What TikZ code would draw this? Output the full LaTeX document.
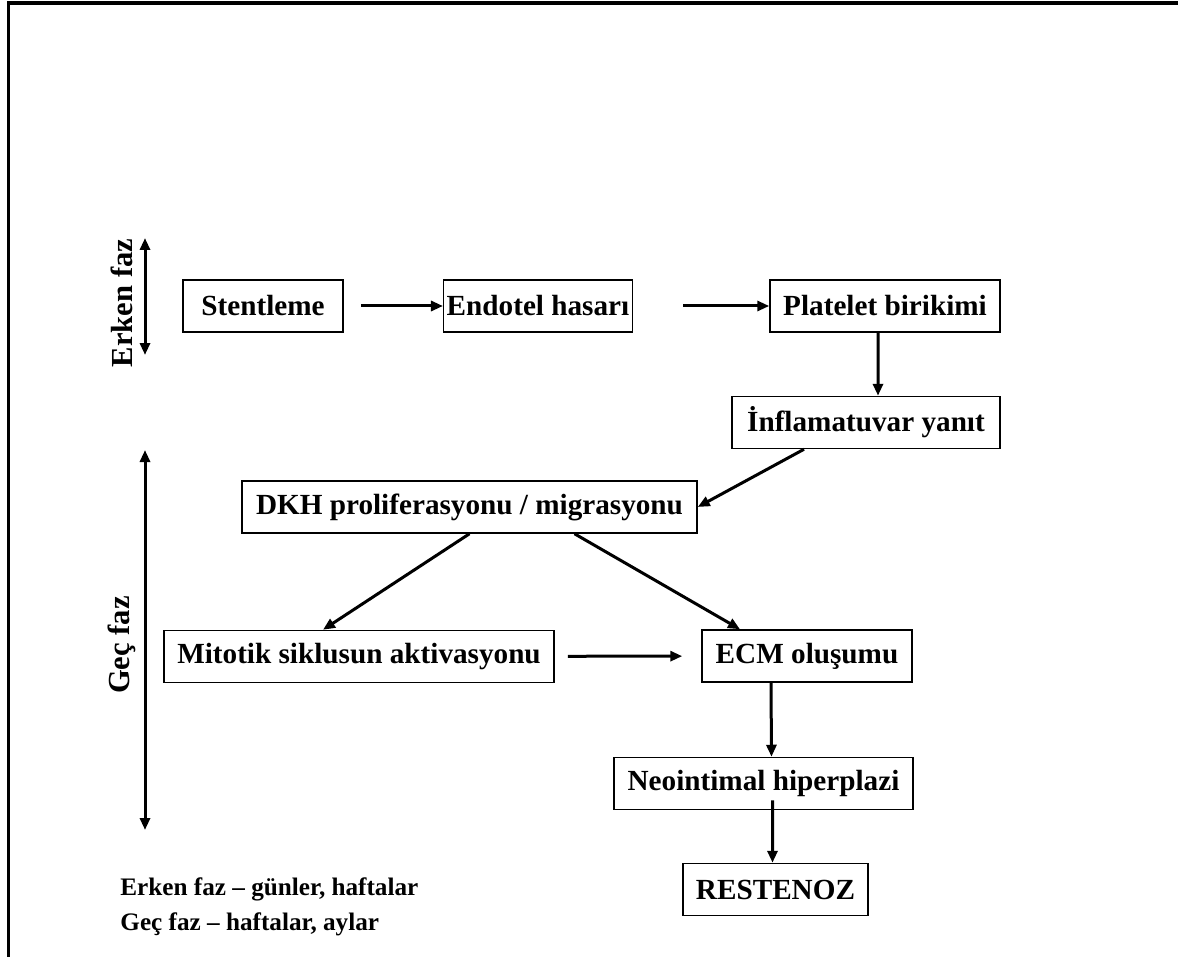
\documentclass[tikz,border=0pt]{standalone}
\usepackage{fontspec}
\setmainfont{Liberation Serif}
\usetikzlibrary{arrows.meta,calc}

\begin{document}
\begin{tikzpicture}[x=5pt,y=5pt,
  box/.style={draw,line width=0.75pt,font=\fontsize{14.6}{16}\selectfont\bfseries,inner xsep=1.5pt,
              minimum height=26pt},
  arr/.style={-{Triangle[length=6pt,width=5pt]},line width=1.5pt},
  phase/.style={{Triangle[length=6pt,width=5pt]}-{Triangle[length=6pt,width=5pt]},line width=1.5pt},
  lbl/.style={font=\fontsize{15.3}{18}\selectfont\bfseries,rotate=90}]
\useasboundingbox (0,0) rectangle (117.8,-95.7);
% çerçeve
\draw[line width=1.6pt] (0.87,-95.7) -- (0.87,-0.3) -- (117.8,-0.3);
% erken faz
\node[box,minimum width=80pt]  (stent) at (26.3,-30.6)  {Stentleme};
\node[box,minimum width=90pt]  (endo)  at (53.8,-30.6)  {Endotel hasarı};
\node[box,minimum width=115pt] (plat)  at (88.5,-30.6)  {Platelet birikimi};
\node[box,minimum width=134pt] (infl)  at (86.6,-42.25) {İnflamatuvar yanıt};
% geç faz
\node[box,minimum width=227.5pt] (dkh)  at (46.95,-50.7) {DKH proliferasyonu / migrasyonu};
\node[box,minimum width=195pt]   (mito) at (35.9,-65.65) {Mitotik siklusun aktivasyonu};
\node[box,minimum width=105pt]   (ecm)  at (80.7,-65.6)  {ECM oluşumu};
\node[box,minimum width=149.5pt] (neo)  at (76.35,-78.35) {Neointimal hiperplazi};
\node[box,minimum width=92.5pt]  (rest) at (77.55,-88.95) {RESTENOZ};
\draw[arr,shorten <=8.5pt] (stent) -- (endo);
\draw[arr,shorten <=25pt] (endo) -- (plat);
\draw[arr] ([xshift=-3.5pt]plat.south) -- ([xshift=6pt]infl.north);
\draw[arr] ([xshift=-31pt]infl.south) -- (dkh.east);
\draw[arr] (dkh.south) -- ([xshift=-18pt]mito.north);
\draw[arr] ([xshift=52.5pt]dkh.south) -- ([xshift=-33.5pt]ecm.north);
\draw[arr,shorten <=6.5pt,shorten >=9.5pt] (mito) -- (ecm);
\draw[arr] ([xshift=-18pt]ecm.south) -- ([xshift=4pt]neo.north);
\draw[arr] ([xshift=4.5pt,yshift=5pt]neo.south) -- ([xshift=-1.5pt]rest.north);
% faz okları
\coordinate (e1) at (14.5,-23.8); \coordinate (e2) at (14.5,-35.5);
\coordinate (g1) at (14.5,-45.0); \coordinate (g2) at (14.5,-83.0);
\draw[phase] (e1) -- (e2);
\draw[phase] (g1) -- (g2);
\node[lbl] (erken) at (12.2,-30.3) {Erken faz};
\node[lbl] (gec)   at (12.2,-64.5) {Geç faz};
% açıklama
\node[anchor=north west,inner sep=0pt,align=left,font=\fontsize{12.6}{17.5}\selectfont\bfseries]
  (not) at (12.0,-87.7) {Erken faz -- günler, haftalar\\Geç faz -- haftalar, aylar};
\end{tikzpicture}
\end{document}
